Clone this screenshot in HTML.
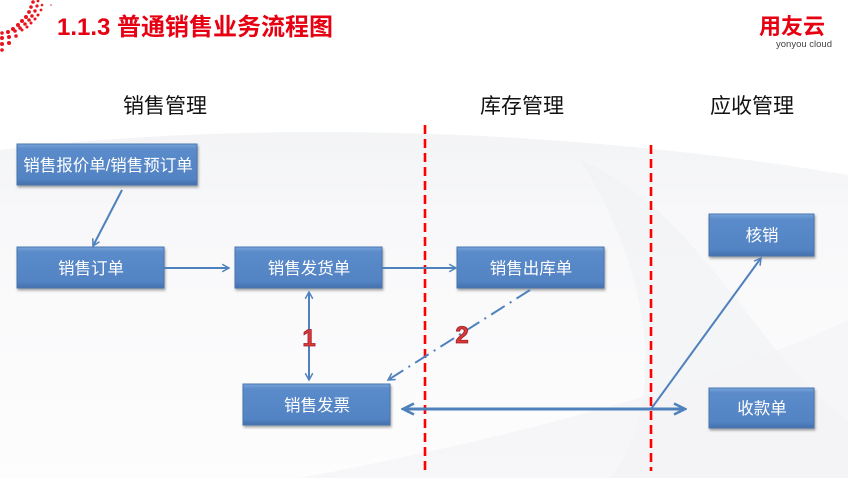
<!DOCTYPE html>
<html><head><meta charset="utf-8">
<style>
html,body{margin:0;padding:0;background:#fff;}
body{width:848px;height:478px;overflow:hidden;position:relative;}
svg{display:block;}
</style></head>
<body>
<svg width="848" height="478" viewBox="0 0 848 478" xmlns="http://www.w3.org/2000/svg" font-family="'Liberation Sans','Noto Sans CJK SC',sans-serif">
<defs>
  <linearGradient id="bx" x1="0" y1="0" x2="0" y2="1">
    <stop offset="0" stop-color="#7aa5da"/>
    <stop offset="0.12" stop-color="#5b8bca"/>
    <stop offset="0.85" stop-color="#5283c3"/>
    <stop offset="1" stop-color="#4470ac"/>
  </linearGradient>
  <linearGradient id="band" x1="0" y1="0" x2="0" y2="1">
    <stop offset="0" stop-color="#f3f4f6"/>
    <stop offset="0.25" stop-color="#f8f8fa"/>
    <stop offset="1" stop-color="#fdfdfd"/>
  </linearGradient>
  <filter id="sh" x="-10%" y="-10%" width="125%" height="140%">
    <feDropShadow dx="1" dy="2" stdDeviation="1.2" flood-color="#000" flood-opacity="0.35"/>
  </filter>
  <marker id="ah" viewBox="0 0 12 12" refX="10" refY="6" markerWidth="9" markerHeight="9" markerUnits="userSpaceOnUse" orient="auto-start-reverse">
    <path d="M1,1 L10,6 L1,11" fill="none" stroke="#4f81bd" stroke-width="2"/>
  </marker>
  <marker id="ahb" viewBox="0 0 14 14" refX="12" refY="7" markerWidth="14" markerHeight="14" markerUnits="userSpaceOnUse" orient="auto-start-reverse">
    <path d="M1,1.5 L12,7 L1,12.5" fill="none" stroke="#4f81bd" stroke-width="2.6"/>
  </marker>
</defs>

<!-- background swooshes -->
<rect x="0" y="0" width="848" height="478" fill="#fff"/>
<path d="M0,150 C200,125 520,120 848,175 L848,478 L0,478 Z" fill="url(#band)"/>
<path d="M580,160 C700,210 760,360 848,420 L848,478 L610,478 C670,400 650,270 580,160 Z" fill="#f0f1f4" opacity="0.6"/>
<path d="M300,478 C500,440 700,390 848,320 L848,478 Z" fill="#f3f4f6" opacity="0.7"/>

<!-- decorative dots -->
<g fill="#e8141d">
  <circle cx="33" cy="2" r="1.8"/><circle cx="38" cy="1" r="1.4"/>
  <circle cx="31" cy="7" r="1.8"/><circle cx="37" cy="6" r="1.6"/><circle cx="42" cy="5" r="1.3"/>
  <circle cx="29" cy="12" r="1.9"/><circle cx="35" cy="11" r="1.7"/><circle cx="41" cy="10" r="1.4"/>
  <circle cx="26" cy="17" r="2"/><circle cx="32" cy="16" r="1.8"/><circle cx="38" cy="15" r="1.5"/>
  <circle cx="22" cy="21" r="2"/><circle cx="29" cy="20" r="1.8"/><circle cx="35" cy="19" r="1.5"/>
  <circle cx="18" cy="25" r="2"/><circle cx="25" cy="24" r="1.8"/><circle cx="31" cy="23" r="1.5"/>
  <circle cx="13" cy="29" r="2"/><circle cx="20" cy="28" r="1.8"/><circle cx="27" cy="27" r="1.5"/>
  <circle cx="2" cy="33" r="1.8"/><circle cx="8" cy="32" r="2"/><circle cx="15" cy="31" r="1.8"/><circle cx="22" cy="30" r="1.5"/>
  <circle cx="2" cy="38" r="2"/><circle cx="9" cy="37" r="2"/><circle cx="16" cy="36" r="1.8"/>
  <circle cx="2" cy="44" r="2"/><circle cx="9" cy="43" r="2"/><circle cx="2" cy="50" r="1.8"/><circle cx="51" cy="5" r="1" opacity="0.5"/>
</g>

<!-- title -->
<text x="57" y="35" font-size="24" font-weight="bold" fill="#e60012">1.1.3 普通销售业务流程图</text>

<!-- logo -->
<text x="759" y="34" font-size="22" font-weight="bold" fill="#e60012">用友云</text>
<text x="776" y="47" font-size="9.5" fill="#444">yonyou cloud</text>

<!-- section headers -->
<text x="165" y="113" font-size="21" fill="#111" text-anchor="middle">销售管理</text>
<text x="522" y="113" font-size="21" fill="#111" text-anchor="middle">库存管理</text>
<text x="752" y="113" font-size="21" fill="#111" text-anchor="middle">应收管理</text>

<!-- red dashed lines -->
<line x1="425" y1="125" x2="425" y2="470" stroke="#ff0000" stroke-width="2.6" stroke-dasharray="9,5"/>
<line x1="651" y1="145" x2="651" y2="471" stroke="#ff0000" stroke-width="2.6" stroke-dasharray="9,5"/>

<!-- boxes -->
<g filter="url(#sh)" stroke="#4a76b0" stroke-width="1">
  <rect x="17" y="144" width="180" height="41" fill="url(#bx)"/>
  <rect x="17" y="247" width="147" height="41" fill="url(#bx)"/>
  <rect x="235" y="247" width="147" height="41" fill="url(#bx)"/>
  <rect x="457" y="247" width="147" height="41" fill="url(#bx)"/>
  <rect x="243" y="384" width="147" height="41" fill="url(#bx)"/>
  <rect x="709" y="214" width="105" height="42" fill="url(#bx)"/>
  <rect x="709" y="388" width="105" height="40" fill="url(#bx)"/>
</g>
<g font-size="16.5" fill="#fff" text-anchor="middle">
  <text x="108" y="171">销售报价单/销售预订单</text>
  <text x="91" y="274">销售订单</text>
  <text x="309" y="274">销售发货单</text>
  <text x="531" y="274">销售出库单</text>
  <text x="317" y="411">销售发票</text>
  <text x="762" y="241">核销</text>
  <text x="762" y="414">收款单</text>
</g>

<!-- connectors -->
<g stroke="#4f81bd" fill="none">
  <line x1="122" y1="190" x2="93" y2="246" stroke-width="2" marker-end="url(#ah)"/>
  <line x1="164" y1="268" x2="229" y2="268" stroke-width="2" marker-end="url(#ah)"/>
  <line x1="382" y1="268" x2="456" y2="268" stroke-width="2" marker-end="url(#ah)"/>
  <line x1="309" y1="292" x2="309" y2="380" stroke-width="2" marker-start="url(#ah)" marker-end="url(#ah)"/>
  <line x1="530" y1="290" x2="388" y2="380" stroke-width="2" stroke-dasharray="16,6,2,6" marker-end="url(#ah)"/>
  <line x1="403" y1="409" x2="685" y2="409" stroke-width="3" marker-start="url(#ahb)" marker-end="url(#ahb)"/>
  <line x1="651" y1="409" x2="761" y2="258" stroke-width="2" marker-end="url(#ah)"/>
</g>

<!-- numbers -->
<g font-size="24" font-weight="bold" fill="#d9383c" stroke="#9e1f22" stroke-width="0.8" text-anchor="middle">
  <text x="309" y="346">1</text>
  <text x="462" y="343">2</text>
</g>
</svg>
</body></html>
